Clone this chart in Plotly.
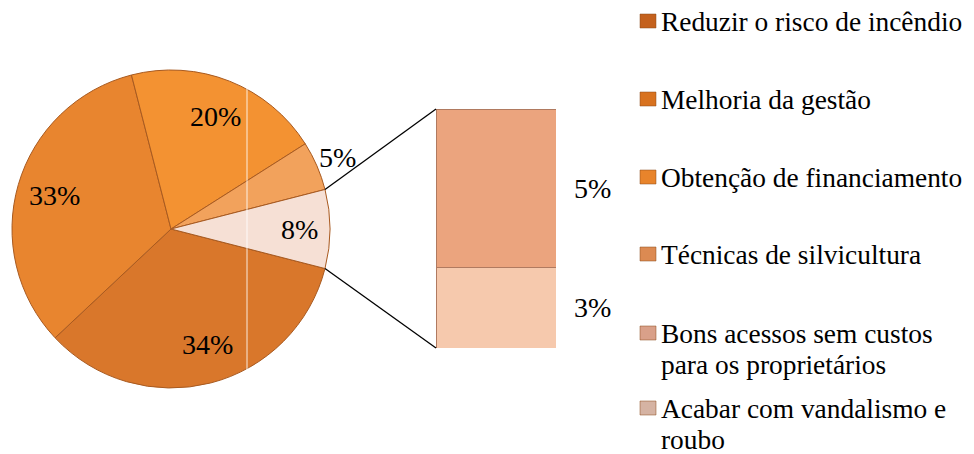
import math
import plotly.graph_objects as go

# ---------------- data ----------------
categories = [
    "Reduzir o risco de incêndio",
    "Melhoria da gestão",
    "Obtenção de financiamento",
    "Técnicas de silvicultura",
    "Bons acessos sem custos<br>para os proprietários",
    "Acabar com vandalismo e<br>roubo",
]
values = [34, 33, 20, 5, 5.3, 2.7]          # percent
n_pie = 4                                     # first 4 in the pie, rest in the bar
other_label = "Outros"

pie_labels = categories[:n_pie] + [other_label]
pie_values = values[:n_pie] + [sum(values[n_pie:])]
bar_labels = categories[n_pie:]
bar_values = values[n_pie:]

pie_colors = ["#d9772b", "#e8852f", "#f39232", "#f2a25c", "#f6e0d5"]
bar_colors = ["#eba47e", "#f6c9ad"]
legend_colors = ["#c4611d", "#d8721f", "#e8842b", "#dc8a52", "#d9a089", "#d5b3a3"]

# ---------------- layout geometry ----------------
WIN_W, WIN_H = 974, 454
OFF = 8                      # page body margin
W, H = WIN_W - OFF, WIN_H - OFF
FONT = "Liberation Serif"
FS = 28
FS_LEG = 27.4

pie_px = dict(x0=12, x1=330, y0=70, y1=388)       # window-pixel box of the pie
bar_px = dict(x0=436, x1=556, y0=109, y1=348)     # window-pixel box of the bar

def px_to_paper(x, y):
    return (x - OFF) / W, 1 - (y - OFF) / H

pie_dom_x = [(pie_px["x0"] - OFF) / W, (pie_px["x1"] - OFF) / W]
pie_dom_y = [1 - (pie_px["y1"] - OFF) / H, 1 - (pie_px["y0"] - OFF) / H]
bar_dom_x = [(bar_px["x0"] - OFF) / W, (bar_px["x1"] - OFF) / W]
bar_dom_y = [1 - (bar_px["y1"] - OFF) / H, 1 - (bar_px["y0"] - OFF) / H]

total = sum(pie_values)
other_frac = pie_values[-1] / total
rotation = 90 + other_frac * 360 / 2     # other slice centred at 3 o'clock

fig = go.Figure()

fig.add_trace(go.Pie(
    labels=pie_labels,
    values=pie_values,
    sort=False,
    direction="clockwise",
    rotation=rotation,
    domain=dict(x=pie_dom_x, y=pie_dom_y),
    marker=dict(colors=pie_colors, line=dict(color="#a85a20", width=1)),
    textinfo="none",
    hoverinfo="label+percent",
    showlegend=False,
))

# stacked bar (bottom first)
for lab, v, c in reversed(list(zip(bar_labels, bar_values, bar_colors))):
    fig.add_trace(go.Bar(
        x=[0], y=[v], name=lab, width=1,
        marker=dict(color=c, line=dict(color="#b07a60", width=1)),
        showlegend=False, xaxis="x", yaxis="y",
    ))

bar_total = sum(bar_values)
fig.update_layout(
    barmode="stack",
    xaxis=dict(domain=bar_dom_x, range=[-0.5, 0.5], visible=False, fixedrange=True),
    yaxis=dict(domain=bar_dom_y, range=[0, bar_total], visible=False, fixedrange=True),
)

annotations = []
shapes = []
tfont = dict(family=FONT, size=FS, color="black")
lfont = dict(family=FONT, size=FS_LEG, color="black")

# bar labels
cum = 0
for lab, v in reversed(list(zip(bar_labels, bar_values))):
    annotations.append(dict(
        x=0.5, y=cum + v / 2, xref="x", yref="y", xanchor="left", yanchor="middle",
        xshift=16, text=f"{round(v)}%", showarrow=False, font=tfont,
    ))
    cum += v

# pie geometry in window pixels
cx = (pie_px["x0"] + pie_px["x1"]) / 2
cy = (pie_px["y0"] + pie_px["y1"]) / 2
r = (pie_px["x1"] - pie_px["x0"]) / 2

def pie_point(angle_deg, rad):
    a = math.radians(angle_deg)
    return cx + rad * math.sin(a), cy - rad * math.cos(a)

# pie data labels (clockwise from rotation)
ang = rotation
for i, v in enumerate(pie_values):
    span = v / total * 360
    mid = ang + span / 2
    if i == 0:
        mid -= 3           # largest slice label sits slightly before the middle
    if i == 3:
        rf = 1.14          # small slice: label outside
    elif i == len(pie_values) - 1:
        rf = 0.81
    else:
        rf = 0.76
    lx, ly = pie_point(mid, r * rf)
    px, py = px_to_paper(lx, ly)
    annotations.append(dict(
        x=px, y=py, xref="paper", yref="paper", xanchor="center", yanchor="middle",
        text=f"{round(v)}%", showarrow=False, font=tfont,
    ))
    ang += span

# connector lines between "other" slice and the bar
other_start = rotation - other_frac * 360   # upper edge
other_end = rotation                          # lower edge
for a_, by in ((other_start, bar_px["y0"]), (other_end, bar_px["y1"])):
    x0p, y0p = px_to_paper(*pie_point(a_, r))
    x1p, y1p = px_to_paper(bar_px["x0"], by)
    shapes.append(dict(type="line", xref="paper", yref="paper",
                       x0=x0p, y0=y0p, x1=x1p, y1=y1p,
                       line=dict(color="black", width=1.3)))

# thin white vertical artefact across the pie
ax0, ay0 = px_to_paper(247, 386)
ax1, ay1 = px_to_paper(247, 72)
shapes.append(dict(type="line", xref="paper", yref="paper",
                   x0=ax0, x1=ax1, y0=ay0, y1=ay1,
                   line=dict(color="rgba(255,255,255,0.85)", width=1)))

# manual legend
legend_rows = [22, 100, 178, 255, 334, 409]
LINE_GAP = 31
for lab, c, yc in zip(categories, legend_colors, legend_rows):
    mx0, my0 = px_to_paper(640, yc + 6)
    mx1, my1 = px_to_paper(656, yc - 8)
    shapes.append(dict(type="rect", xref="paper", yref="paper",
                       x0=mx0, x1=mx1, y0=my0, y1=my1,
                       fillcolor=c, line=dict(color="#8a4a1a", width=0.5)))
    for j, line in enumerate(lab.split("<br>")):
        tx, ty = px_to_paper(660, yc + j * LINE_GAP)
        annotations.append(dict(
            x=tx, y=ty, xref="paper", yref="paper",
            xanchor="left", yanchor="middle", align="left",
            text=line, showarrow=False, borderpad=0, font=lfont,
        ))

fig.update_layout(
    width=W, height=H, autosize=False,
    margin=dict(l=0, r=0, t=0, b=0),
    paper_bgcolor="white", plot_bgcolor="white",
    annotations=annotations, shapes=shapes,
    showlegend=False,
)

fig.write_html("out.html")
